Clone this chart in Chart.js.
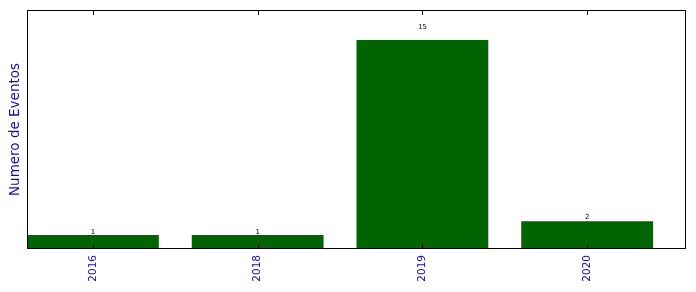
<!DOCTYPE html>
<html>
<head>
<meta charset="utf-8">
<script src="https://cdn.jsdelivr.net/npm/chart.js@4"></script>
<style>
  html, body { margin: 0; padding: 0; background: #fff; }
  #wrap { width: 696px; height: 292px; }
</style>
</head>
<body>
<div id="wrap"><canvas id="eventos"></canvas></div>
<script>
const years = ["2016", "2018", "2019", "2020"];
const eventCounts = [1, 1, 15, 2];
const tickPositions = [0, 1, 2, 3];

// matplotlib style box, inward ticks and value labels
const boxPlugin = {
  id: "boxPlugin",
  afterDraw(chart) {
    const c = chart.ctx;
    const a = chart.chartArea;
    const xs = chart.scales.x;
    const ys = chart.scales.y;
    c.save();
    c.strokeStyle = "#000";
    c.lineWidth = 1;
    c.strokeRect(Math.round(a.left) + 0.5, Math.round(a.top) + 0.5,
      Math.round(a.right - a.left) - 1, Math.round(a.bottom - a.top) - 1);
    c.beginPath();
    tickPositions.forEach((t) => {
      const px = Math.round(xs.getPixelForValue(t)) + 0.5;
      c.moveTo(px, a.bottom);
      c.lineTo(px, a.bottom - 5);
      c.moveTo(px, a.top);
      c.lineTo(px, a.top + 5);
    });
    c.stroke();

    c.fillStyle = "#000";
    c.font = "7px 'DejaVu Sans'";
    c.textAlign = "center";
    c.textBaseline = "bottom";
    const meta = chart.getDatasetMeta(0);
    meta.data.forEach((bar, i) => {
      const v = eventCounts[i];
      c.fillText(String(v), bar.x, ys.getPixelForValue(v * 1.05) + 1);
    });
    c.restore();
  },
};

const ctx = document.getElementById("eventos");
new Chart(ctx, {
  type: "bar",
  data: {
    datasets: [
      {
        label: "Eventos",
        data: eventCounts.map((v, i) => ({ x: tickPositions[i], y: v })),
        backgroundColor: "#006400",
        borderWidth: 0,
        barPercentage: 0.8,
        categoryPercentage: 1.0,
      },
    ],
  },
  options: {
    responsive: true,
    maintainAspectRatio: false,
    animation: false,
    layout: {
      padding: { top: 10, right: 10, left: 0, bottom: 0 },
    },
    plugins: {
      legend: { display: false },
      tooltip: { enabled: false },
    },
    scales: {
      x: {
        type: "linear",
        min: -0.4,
        max: 3.6,
        offset: false,
        grid: { display: false },
        border: { display: false },
        afterBuildTicks: (scale) => {
          scale.ticks = tickPositions.map((v) => ({ value: v }));
        },
        afterFit: (scale) => {
          scale.height = 43;
        },
        ticks: {
          color: "#1010b0",
          font: { family: "DejaVu Sans", size: 10.5 },
          maxRotation: 90,
          minRotation: 90,
          padding: -2,
          autoSkip: false,
          callback: (value) => years[tickPositions.indexOf(value)] ?? "",
        },
      },
      y: {
        min: 0,
        max: 17.15,
        grid: { display: false },
        border: { display: false },
        ticks: { display: false },
        afterFit: (scale) => {
          scale.width = 27;
        },
        title: {
          display: true,
          text: "Numero de Eventos",
          color: "#1010b0",
          font: { family: "DejaVu Sans", size: 13.5 },
          padding: { top: 7, bottom: 0 },
        },
      },
    },
  },
  plugins: [boxPlugin],
});
</script>
</body>
</html>
